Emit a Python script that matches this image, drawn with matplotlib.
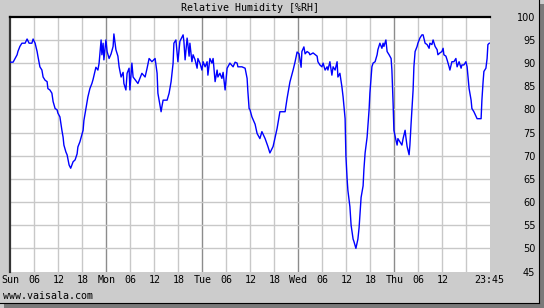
import matplotlib
matplotlib.use("Agg")
import matplotlib.pyplot as plt
import matplotlib.patches as mpatches

# hours since Sun 00:00 and relative humidity [%RH]
hours = [0, 0.7, 1.2, 1.7, 1.9, 2.4, 2.9, 3.7, 4.2, 4.7, 5.4, 5.7, 6.2, 6.7, 6.9,
         7.4, 7.9, 8.2, 8.7, 9.2, 9.4, 9.9, 10.4, 10.7, 11.2, 11.7, 11.9, 12.4,
         12.9, 13.2, 13.4, 13.9, 14.2, 14.7, 15.1,
         15.7, 16.2, 16.7, 16.9, 17.4, 18.2, 18.4, 18.9, 19.4, 19.9, 20.4, 20.7,
         21.4, 21.9, 22.2, 22.7, 22.9, 23.2, 23.4, 23.9, 24.2, 24.7, 25.2, 25.7,
         25.9, 26.4, 26.9, 27.2, 27.7, 28.2, 28.4, 28.9, 29.2, 29.7,
         29.9, 30.4, 30.7, 31.2, 31.9, 32.9, 33.7, 34.2, 34.7, 35.4, 36.2, 36.7,
         36.9, 37.7, 37.9, 38.2, 39.2, 39.7, 40.2, 40.7, 40.9, 41.4, 41.7, 41.9,
         42.4, 43.2, 43.4, 43.7, 44.2, 44.4, 44.7,
         44.9, 45.4, 45.7, 46.2, 46.7, 46.9, 47.4, 47.9, 48.2, 48.7, 49.2, 49.4,
         49.9, 50.4, 50.7, 51.2, 51.7, 51.9, 52.4, 52.9, 53.2, 53.7, 54.2, 54.4,
         54.9, 55.7, 56.2, 56.7, 56.9, 57.9, 58.7, 59.2, 59.4, 59.7,
         59.9, 60.4, 61.2, 61.7, 62.4, 62.9, 63.7, 64.4, 64.9, 65.7, 66.7, 67.4,
         68.7, 69.2, 69.9, 70.7, 71.2, 71.7, 72.2, 72.7, 72.9, 73.4, 73.7, 74.2,
         74.7,
         74.9, 75.7, 76.7, 76.9, 77.4, 77.9, 78.2, 78.7, 79.2, 79.4, 79.9, 80.4,
         80.7, 81.2, 81.7, 81.9, 82.4, 82.9, 83.2, 83.7, 83.9, 84.2, 84.4, 84.9,
         85.2, 85.7, 85.9, 86.4, 86.9, 87.2, 87.4, 87.7, 88.2, 88.4, 88.7, 89.2,
         89.7,
         89.9, 90.4, 90.7, 91.2, 91.7, 91.9, 92.4, 92.9, 93.2, 93.4, 93.9, 94.2,
         94.7, 95.2, 95.4, 95.7, 95.9, 96.4, 96.7, 96.9, 97.4, 97.9, 98.2, 98.7,
         98.9, 99.2, 99.7, 99.9, 100.2, 100.7, 100.9, 101.2, 101.7, 101.9, 102.4,
         102.9, 103.2, 103.7, 104.2, 104.7,
         104.9, 105.4, 105.7, 106.2, 106.7, 106.9, 107.4, 107.9, 108.2, 108.4,
         108.9, 109.2, 109.7, 109.9, 110.4, 110.9, 111.4, 111.7, 112.2, 112.7,
         112.9, 113.4, 113.9, 114.2, 114.7, 115.2, 115.4, 115.9, 116.7, 117.7,
         117.9, 118.2, 118.4, 118.9, 119.2, 119.4, 119.75]

rh = [90.2, 90.2, 91, 91.8, 92.5, 93.6, 94.3, 94.3, 95.2, 94.3, 94.3, 95.2, 94.3,
      92.5, 91.5, 89.2, 88.5, 87, 86.3, 86, 84.5, 84.2, 83.5, 81.7, 80.2, 79.9,
      79.2, 78.4, 75.5, 74, 72.3, 70.8, 70.2, 68, 67.3,
      68.7, 69.1, 70.4, 71.9, 73, 75.5, 77.6, 80.1, 82.7, 84.5, 85.6, 86.5, 89.1,
      88.5, 90, 95, 91.8, 94.3, 90.7, 95, 92.5, 91, 92, 93.6, 96.3, 92.9, 91.5,
      89.2, 87, 88, 85.6, 84.2, 87.8, 88.9,
      84.2, 90, 87, 86.4, 85.6, 87.8, 87, 88.9, 91, 90.3, 91, 87.8, 83.5, 79.5,
      80.6, 82, 82, 83.5, 86, 90, 94.3, 95, 92.2, 90.3, 94.7, 96.1, 94.7, 90.7,
      95.4, 94, 91.5,
      94.3, 90.3, 91.8, 90.7, 88.9, 91, 90, 88.5, 90.3, 89.2, 90.3, 87.4, 91, 90,
      91, 86, 88.5, 87, 87.8, 86.7, 88, 84.2, 88.9, 89.2, 90, 89.2, 90.2, 90,
      89.2, 89.2, 88.9, 86.7, 83.8, 80.2,
      80, 78.4, 76.8, 74.8, 73.7, 75.2, 73.7, 72, 70.6, 72, 75.9, 79.5, 79.5,
      82.4, 85.9, 88.5, 90.3, 92.4, 92, 89.1, 92.5, 93.5, 92, 92.5, 92.2,
      91.8, 92.2, 91.5, 90.3, 89.6, 89.2, 90, 88.5, 89.2, 88.5, 90.3, 87.4, 89.2,
      88.5, 90.3, 87, 87.8, 84.9, 82.7, 78, 70, 65, 62.5, 59, 55, 52, 51.5, 50,
      52, 54.5, 57, 61, 63.5, 67, 70.6, 74, 80,
      83.5, 89.2, 90, 90.3, 91.8, 92.9, 94.3, 93.2, 94.3, 93.6, 95, 92.5, 91.8,
      91, 88.5, 81.3, 75.5, 73.4, 72.3, 73.7, 73, 72.3, 73.7, 75.5, 74, 72, 70.2,
      72.3, 77, 84.2, 89.2, 92.5, 93.6, 94.3, 95.4, 96.1, 96.1, 94.3, 94, 93.2,
      94.3, 94, 95, 93.6, 92.9, 91.8, 92.2, 92.5, 93.2, 91.8, 91.5, 90.7, 89.2,
      88.5, 90.3, 90.3, 91, 89.2, 90.3, 88.9, 89.6, 89.6, 90.3, 89.2, 84.5, 82,
      80.2, 79.5, 78, 78, 82, 86, 88.2, 88.9, 91, 94, 94.3]

tick_hours = [0, 6, 12, 18, 24, 30, 36, 42, 48, 54, 60, 66, 72, 78, 84, 90,
              96, 102, 108, 119.75]
tick_labels = ['Sun', '06', '12', '18', 'Mon', '06', '12', '18', 'Tue', '06',
               '12', '18', 'Wed', '06', '12', '18', 'Thu', '06', '12', '23:45']
y_ticks = list(range(45, 101, 5))

W, H = 544, 308
fig = plt.figure(figsize=(W / 100, H / 100), dpi=100)
fig.patch.set_facecolor('#cccccc')

# drop shadow on the right and bottom
fig.patches.append(mpatches.Rectangle((539 / W, 0), 5 / W, 1 - 4 / H,
                                      transform=fig.transFigure, fc='#7a7a7a', ec='none'))
fig.patches.append(mpatches.Rectangle((4 / W, 0), 1 - 4 / W, 5 / H,
                                      transform=fig.transFigure, fc='#7a7a7a', ec='none'))
fig.lines.append(plt.Line2D([538.5 / W, 538.5 / W], [5 / H, 1], transform=fig.transFigure,
                            color='k', lw=0.8))
fig.lines.append(plt.Line2D([0, 538.5 / W], [5.5 / H, 5.5 / H], transform=fig.transFigure,
                            color='k', lw=0.8))

ax = fig.add_axes([10.3 / W, 1 - 271.5 / H, 480 / W, 254.7 / H])
ax.set_facecolor('white')

# grid: 6 hour lines light, day lines darker
for h in range(6, 120, 6):
    c = '#8c8c8c' if h % 24 == 0 else '#c8c8c8'
    ax.axvline(h, color=c, lw=1.0, zorder=1)
for v in y_ticks[1:-1]:
    ax.axhline(v, color='#c8c8c8', lw=1.0, zorder=1)

ax.plot(hours, rh, color='#0000ff', lw=1.0, zorder=3)

ax.set_xlim(0, 120)
ax.set_ylim(45, 100)

ax.set_xticks(tick_hours)
ax.set_xticklabels(tick_labels, family='DejaVu Sans Mono', fontsize=7.2)
ax.tick_params(axis='x', length=0, pad=2.5, colors='black')

ax.set_yticks(y_ticks)
ax.set_yticklabels([str(v) for v in y_ticks], fontsize=7)
ax.tick_params(axis='y', left=False, right=False, labelleft=False, labelright=True,
               length=0, pad=32.4)
for lab in ax.get_yticklabels():
    lab.set_horizontalalignment('right')

for s in ['right', 'bottom']:
    ax.spines[s].set_visible(False)
ax.spines['top'].set_color('black')
ax.spines['top'].set_linewidth(1.6)
ax.spines['left'].set_color('#333333')
ax.spines['left'].set_linewidth(1.6)

fig.text(250 / W, 1 - 8 / H, 'Relative Humidity [%RH]', ha='center', va='center',
         family='DejaVu Sans Mono', fontsize=7.2)
fig.text(3 / W, 1 - 295.7 / H, 'www.vaisala.com', ha='left', va='center',
         family='DejaVu Sans Mono', fontsize=7.2)

fig.savefig('out.png', dpi=100, facecolor=fig.get_facecolor())
